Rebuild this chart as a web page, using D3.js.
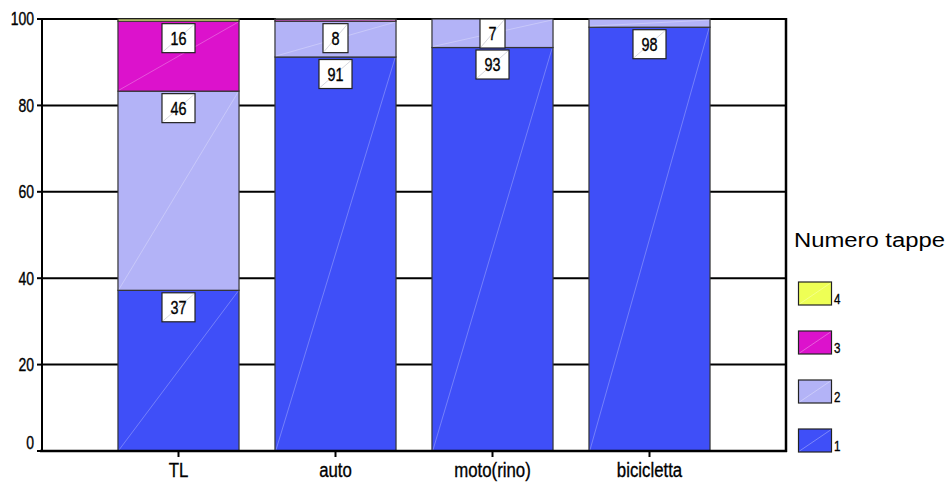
<!DOCTYPE html>
<html>
<head>
<meta charset="utf-8">
<script src="https://cdn.jsdelivr.net/npm/d3@7/dist/d3.min.js"></script>
<style>
  html, body { margin: 0; padding: 0; background: #fff; }
  svg { display: block; }
</style>
</head>
<body>
<svg id="chart" width="952" height="482"></svg>
<script>
// ---- data ----
const categories = ["TL", "auto", "moto(rino)", "bicicletta"];
const seriesNames = ["1", "2", "3", "4"];
const tappe1 = [37.2, 91.2, 93.4, 98.1];
const tappe2 = [46.1, 8.3, 6.6, 1.9];
const tappe3 = [16.2, 0.4, 0, 0];
const tappe4 = [0.5, 0.1, 0, 0];
const yTicks = [0, 20, 40, 60, 80, 100];
const legendTitle = "Numero tappe";

const colors = { "1": "#3f4ff8", "2": "#b3b3f7", "3": "#dc12cc", "4": "#eeff55" };

(function () {
const rows = categories.map((c, i) => ({
  cat: c, "1": tappe1[i], "2": tappe2[i], "3": tappe3[i], "4": tappe4[i]
}));
const stack = d3.stack().keys(seriesNames)(rows);

const svg = d3.select("#chart");
const pLeft = 42, pRight = 786, pTop = 19, pBottom = 451;
const FONT = "'Liberation Sans', Arial, sans-serif";
const SX = 0.8;

// condensed text helper
function ntext(g, x, y, str, size, anchor, dy) {
  return g.append("text")
    .attr("transform", `translate(${x},${y}) scale(${SX},1)`)
    .attr("dy", dy || 0)
    .attr("text-anchor", anchor || "start")
    .attr("font-family", FONT).attr("font-size", size)
    .attr("fill", "#000").attr("stroke", "#000").attr("stroke-width", 0.35)
    .text(str);
}

const y = d3.scaleLinear().domain([0, 100]).range([pBottom, pTop]);
const x = d3.scaleBand().domain(categories).range([100, 728]).paddingInner(0.229).paddingOuter(0.1145);

// gridlines
svg.append("g").selectAll("line").data(yTicks.filter(t => t > 0)).join("line")
  .attr("x1", pLeft).attr("x2", pRight)
  .attr("y1", d => y(d)).attr("y2", d => y(d))
  .attr("stroke", "#000").attr("stroke-width", 2);

// right border
svg.append("line").attr("x1", pRight).attr("x2", pRight).attr("y1", pTop - 1).attr("y2", pBottom + 1)
  .attr("stroke", "#000").attr("stroke-width", 2.5);

// bars
const segG = svg.append("g");
stack.forEach(layer => {
  const key = layer.key;
  layer.forEach((d, i) => {
    const v = d[1] - d[0];
    if (v <= 0) return;
    const x0 = x(categories[i]), w = x.bandwidth();
    const y0 = y(d[0]), y1 = y(d[1]);
    segG.append("rect")
      .attr("x", x0).attr("y", y1).attr("width", w).attr("height", y0 - y1)
      .attr("fill", colors[key]).attr("stroke", "#333").attr("stroke-width", 1.2);
    segG.append("line")
      .attr("x1", x0 + 1).attr("y1", y0 - 1).attr("x2", x0 + w - 1).attr("y2", y1 + 1)
      .attr("stroke", "#fff").attr("stroke-opacity", 0.35).attr("stroke-width", 0.8);
  });
});

// axes
const yAxis = svg.append("g");
yAxis.append("line").attr("x1", pLeft).attr("x2", pLeft).attr("y1", pTop - 1).attr("y2", pBottom)
  .attr("stroke", "#000").attr("stroke-width", 2);
yAxis.selectAll("line.tick").data(yTicks).join("line").attr("class", "tick")
  .attr("x1", pLeft - 5).attr("x2", pLeft).attr("y1", d => y(d)).attr("y2", d => y(d))
  .attr("stroke", "#000").attr("stroke-width", 2);
yTicks.forEach(t => {
  ntext(yAxis, 34, y(t) - (t === 0 ? 8 : 0), t, 17.5, "end", "0.36em");
});

const xAxis = svg.append("g");
xAxis.append("line").attr("x1", pLeft - 2).attr("x2", pRight + 1).attr("y1", pBottom).attr("y2", pBottom)
  .attr("stroke", "#000").attr("stroke-width", 2.5);
xAxis.selectAll("line.tick").data(categories).join("line").attr("class", "tick")
  .attr("x1", d => x(d) + x.bandwidth() / 2).attr("x2", d => x(d) + x.bandwidth() / 2)
  .attr("y1", pBottom).attr("y2", pBottom + 6)
  .attr("stroke", "#000").attr("stroke-width", 2);
categories.forEach(c => {
  ntext(xAxis, x(c) + x.bandwidth() / 2, 477, c, 21, "middle");
});

// value labels
const labG = svg.append("g");
const boxH = 29, pad = 8.5;
categories.forEach((c, i) => {
  let lowerTop = Infinity;
  stack.forEach(layer => {
    const d = layer[i];
    const v = d[1] - d[0];
    const r = Math.round(v);
    if (r < 5) return;
    let bt = y(d[1]) + 2.5;
    if (bt + boxH > lowerTop - 2) bt = lowerTop - 2 - boxH;
    lowerTop = bt;
    const cx = x(c) + x.bandwidth() / 2;
    const t = ntext(labG, cx, bt + boxH / 2, r, 18, "middle", "0.36em");
    const tw = t.node().getComputedTextLength() * SX;
    const bw = tw + pad * 2;
    labG.insert("rect", () => t.node())
      .attr("x", cx - bw / 2).attr("y", bt).attr("width", bw).attr("height", boxH)
      .attr("fill", "#fff").attr("stroke", "#222").attr("stroke-width", 1.2);
    labG.insert("line", () => t.node())
      .attr("x1", cx - bw / 2 + 1).attr("y1", bt + boxH - 1).attr("x2", cx + bw / 2 - 1).attr("y2", bt + 1)
      .attr("stroke", "#99a").attr("stroke-opacity", 0.5).attr("stroke-width", 0.8);
  });
});

// legend
const lg = svg.append("g");
lg.append("text").attr("x", 794).attr("y", 247)
  .attr("font-family", FONT).attr("font-size", 19.5).attr("fill", "#000")
  .attr("textLength", 151).attr("lengthAdjust", "spacingAndGlyphs")
  .text(legendTitle);
const legendKeys = seriesNames.slice().reverse();
legendKeys.forEach((k, i) => {
  const yy = 282 + i * 49;
  lg.append("rect").attr("x", 798.5).attr("y", yy).attr("width", 33).attr("height", 23)
    .attr("fill", colors[k]).attr("stroke", "#222").attr("stroke-width", 1.2);
  lg.append("line").attr("x1", 799.5).attr("y1", yy + 22).attr("x2", 830.5).attr("y2", yy + 1)
    .attr("stroke", "#fff").attr("stroke-opacity", 0.4).attr("stroke-width", 0.8);
  ntext(lg, 834, yy + 22, k, 14.5, "start");
});
})();
</script>
</body>
</html>
